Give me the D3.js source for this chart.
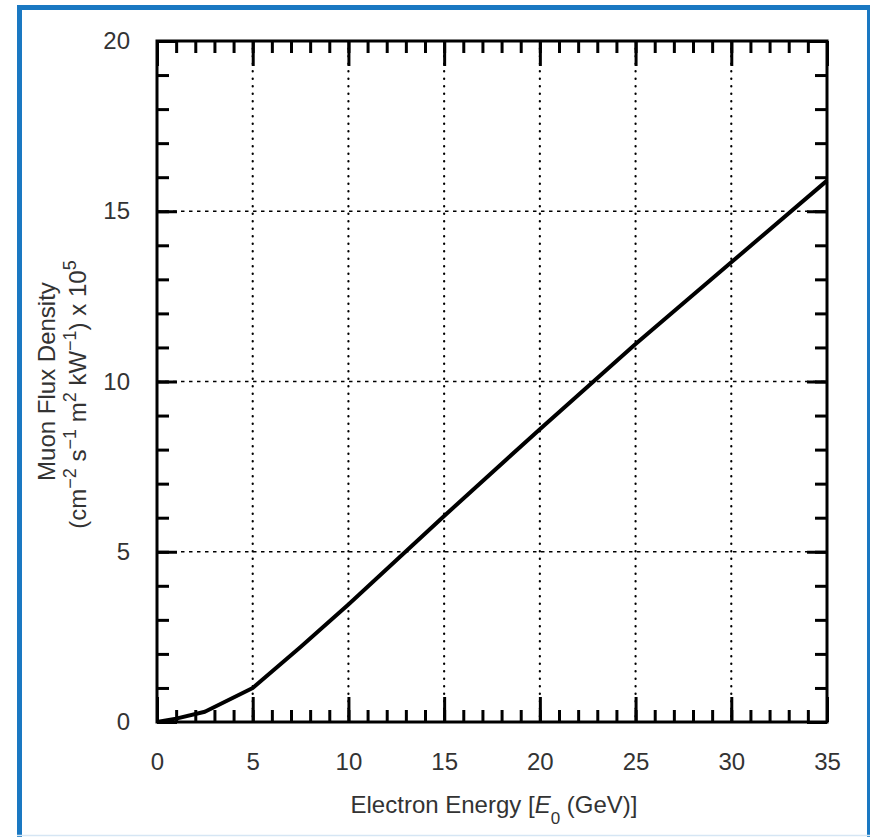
<!DOCTYPE html>
<html>
<head>
<meta charset="utf-8">
<script src="https://cdn.jsdelivr.net/npm/d3@7"></script>
<style>
  body { margin: 0; background: #fff; }
  svg text { font-family: "Liberation Sans", Arial, sans-serif; fill: #333; }
</style>
</head>
<body>
<svg id="chart" width="871" height="837"></svg>
<script>
// muon flux vs electron energy
var energy = [0, 1, 2.5, 5, 7.5, 10, 15, 20, 25, 30, 35];
var flux   = [0, 0.1, 0.3, 1.0, 2.2, 3.45, 6.05, 8.6, 11.1, 13.5, 15.9];

var xMajor = [0, 5, 10, 15, 20, 25, 30, 35];
var yMajor = [0, 5, 10, 15, 20];
var xGrid = [5, 10, 15, 20, 25, 30];
var yGrid = [5, 10, 15];

var svg = d3.select("svg#chart");

// blue box round the figure
var blue = "#1a78c2";
svg.append("line").attr("x1", 19.5).attr("x2", 19.5).attr("y1", 5).attr("y2", 837)
    .attr("stroke", blue).attr("stroke-width", 5);
svg.append("line").attr("x1", 17).attr("x2", 870).attr("y1", 7.5).attr("y2", 7.5)
    .attr("stroke", blue).attr("stroke-width", 5);
svg.append("line").attr("x1", 868.5).attr("x2", 868.5).attr("y1", 5).attr("y2", 837)
    .attr("stroke", blue).attr("stroke-width", 3);
svg.append("line").attr("x1", 17).attr("x2", 870).attr("y1", 835.5).attr("y2", 835.5)
    .attr("stroke", "#d6e6f4").attr("stroke-width", 1.5);

// plot box (window.top is taken, so own names)
var pL = 157, pR = 827, pT = 41, pB = 722;

var x = d3.scaleLinear().domain([0, 35]).range([pL, pR]);
var y = d3.scaleLinear().domain([0, 20]).range([pB, pT]);

var minorX = d3.range(0, 36, 1);
var minorY = d3.range(0, 21, 1);

// dotted grid
svg.append("g").selectAll("line").data(xGrid).join("line")
    .attr("x1", d => x(d)).attr("x2", d => x(d))
    .attr("y1", pT).attr("y2", pB)
    .attr("stroke", "#000").attr("stroke-width", 2.2)
    .attr("stroke-linecap", "round")
    .attr("stroke-dasharray", "0.5,7");
svg.append("g").selectAll("line").data(yGrid).join("line")
    .attr("x1", pL).attr("x2", pR)
    .attr("y1", d => y(d)).attr("y2", d => y(d))
    .attr("stroke", "#000").attr("stroke-width", 1.6)
    .attr("stroke-dasharray", "3.5,4.5");

// inward ticks on all four sides
function ticks(axis, pos, vals, size) {
    var g = svg.append("g").attr("transform", pos)
        .call(axis.tickValues(vals).tickSize(size).tickFormat(""));
    g.select(".domain").remove();
    g.selectAll(".tick line").attr("stroke", "#000").attr("stroke-width", 3);
    return g;
}
ticks(d3.axisBottom(x), "translate(0," + pB + ")", minorX, -12);
ticks(d3.axisBottom(x), "translate(0," + pB + ")", xMajor, -25);
ticks(d3.axisTop(x), "translate(0," + pT + ")", minorX, -12);
ticks(d3.axisTop(x), "translate(0," + pT + ")", xMajor, -25);
ticks(d3.axisLeft(y), "translate(" + pL + ",0)", minorY, -12);
ticks(d3.axisLeft(y), "translate(" + pL + ",0)", yMajor, -20);
ticks(d3.axisRight(y), "translate(" + pR + ",0)", minorY, -12);
ticks(d3.axisRight(y), "translate(" + pR + ",0)", yMajor, -20);

// tick labels
var xl = svg.append("g").attr("transform", "translate(0," + pB + ")")
    .call(d3.axisBottom(x).tickValues(xMajor).tickSize(0).tickPadding(31));
xl.select(".domain").remove();
xl.selectAll("text").attr("font-size", 24).attr("font-family", "Liberation Sans, Arial, sans-serif")
    .attr("fill", "#333");

var yl = svg.append("g").attr("transform", "translate(" + pL + ",0)")
    .call(d3.axisLeft(y).tickValues(yMajor).tickSize(0).tickPadding(27));
yl.select(".domain").remove();
yl.selectAll("text").attr("font-size", 24).attr("font-family", "Liberation Sans, Arial, sans-serif")
    .attr("fill", "#333");

// frame
svg.append("rect")
    .attr("x", pL).attr("y", pT)
    .attr("width", pR - pL).attr("height", pB - pT)
    .attr("fill", "none").attr("stroke", "#000").attr("stroke-width", 3);

// the curve
var line = d3.line().x((d, i) => x(energy[i])).y(d => y(d));
svg.append("path")
    .datum(flux)
    .attr("d", line)
    .attr("fill", "none")
    .attr("stroke", "#000")
    .attr("stroke-width", 4)
    .attr("stroke-linejoin", "round");

// x title
var xt = svg.append("text")
    .attr("x", 494).attr("y", 813)
    .attr("text-anchor", "middle").attr("font-size", 24);
xt.append("tspan").text("Electron Energy [");
xt.append("tspan").attr("font-style", "italic").text("E");
xt.append("tspan").attr("font-size", 17).attr("dy", 11).text("0");
xt.append("tspan").attr("dy", -11).text(" (GeV)]");

// y title, two lines
var cy = (pT + pB) / 2;
svg.append("text")
    .attr("transform", "translate(55," + cy + ") rotate(-90)")
    .attr("text-anchor", "middle").attr("font-size", 24)
    .text("Muon Flux Density");

var yt = svg.append("text")
    .attr("transform", "translate(86," + (cy + 13) + ") rotate(-90)")
    .attr("text-anchor", "middle").attr("font-size", 24)
    .attr("xml:space", "preserve");
var parts = [
    ["(cm", null], ["\u22122", "sup"], [" s", null], ["\u22121", "sup"],
    [" m", null], ["2", "sup"], [" kW", null], ["\u22121", "sup"],
    [") x 10", null], ["5", "sup"]
];
var shifted = false;
parts.forEach(function (p) {
    var t = yt.append("tspan").text(p[0]);
    if (p[1] === "sup") {
        t.attr("font-size", 18).attr("dy", -10);
        shifted = true;
    } else if (shifted) {
        t.attr("dy", 10);
        shifted = false;
    }
});
</script>
</body>
</html>
